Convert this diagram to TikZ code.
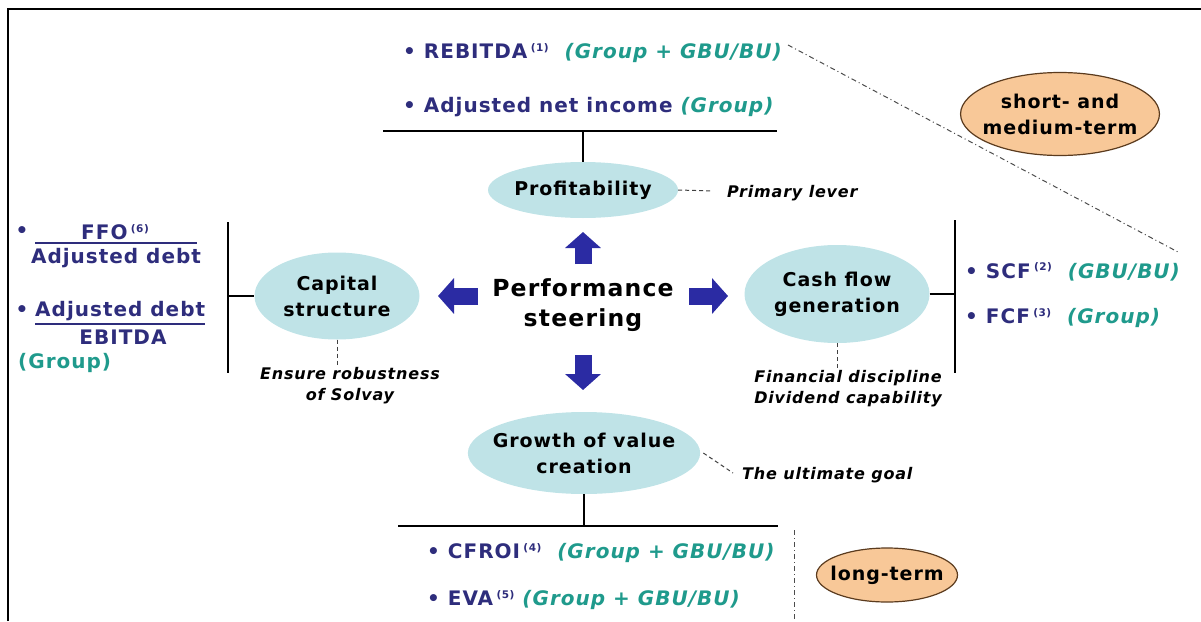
\documentclass[tikz,border=0pt]{standalone}
\usepackage{fontspec}
\setmainfont{DejaVu Sans}[LetterSpace=5]
\usetikzlibrary{shapes.geometric,arrows.meta}
\definecolor{ellblue}{HTML}{BFE3E7}
\definecolor{navy}{HTML}{2E2D7C}
\definecolor{tealg}{HTML}{1F9A8C}
\definecolor{arrblue}{HTML}{2B2BA3}
\definecolor{orfill}{HTML}{F8C898}
\definecolor{orline}{HTML}{5B3B1E}
\newcommand{\mygrp}[1]{\textcolor{tealg}{\itshape #1}}
\newcommand{\myfn}[1]{\raisebox{0.38em}{\fontsize{10.5}{10}\selectfont(#1)}}
\tikzset{
  ell/.style={ellipse, fill=ellblue, inner sep=0pt, align=center, font=\bfseries\fontsize{19}{26}\selectfont},
  orell/.style={ellipse, fill=orfill, draw=orline, line width=1.2pt, inner sep=0pt, align=center, font=\bfseries\fontsize{19}{26}\selectfont},
  met/.style={anchor=west, inner sep=0pt, text=navy, font=\bfseries\fontsize{20}{23}\selectfont},
  note/.style={inner sep=0pt, align=center, font=\bfseries\itshape\fontsize{16}{21}\selectfont},
  ln/.style={line width=1.3pt, black},
  dsh/.style={line width=1pt, black!75, dash pattern=on 4pt off 3pt},
  dshdot/.style={line width=1pt, black!70, dash pattern=on 5pt off 3pt on 1pt off 3pt},
  blk/.style={arrblue, line width=17pt, -{Triangle[length=16pt, width=35pt]}},
}
\begin{document}
\begin{tikzpicture}[x=1pt,y=-1pt]
\useasboundingbox (0,0) rectangle (1201,621);
% frame
\draw[line width=2.6pt] (8,621) -- (8,9) -- (1201,9);

% dash-dot diagonal, behind orange ellipse
\coordinate (dA) at (788,45);
\coordinate (dB) at (1178,252);
\draw[dshdot] (dA) -- (dB);

% ellipses
\node[ell, inner xsep=-4pt, minimum width=190pt, minimum height=56pt] (prof) at (583,190) {Profitability};
\node[ell, minimum width=165pt, minimum height=87pt] (cap) at (337,296) {Capital\\structure};
\node[ell, minimum width=185pt, minimum height=98pt] (cash) at (837,294) {Cash flow\\generation};
\node[ell, inner xsep=-9pt, minimum width=232pt, minimum height=82pt] (grow) at (584,453) {Growth of value\\creation};
\node[orell, inner xsep=-7pt, minimum width=195pt, minimum height=83pt] (smt) at (1060,114) {short- and\\medium-term};
\node[orell, inner xsep=-8pt, minimum width=141pt, minimum height=54pt] (lt) at (887,575) {long-term};

% center
\node[inner sep=0pt, align=center, font=\bfseries\fontsize{23.5}{30}\selectfont] (perf) at (583,305) {Performance\\steering};

% block arrows
\coordinate (uT) at (583,264); \coordinate (uH) at (583,232);
\coordinate (lT) at (478,296); \coordinate (lH) at (438,296);
\coordinate (rT) at (689,296); \coordinate (rH) at (728,296);
\coordinate (dT) at (583,355); \coordinate (dH) at (583,390);
\draw[blk] (uT) -- (uH);
\draw[blk] (lT) -- (lH);
\draw[blk] (rT) -- (rH);
\draw[blk] (dT) -- (dH);

% top metrics
\node[met] (reb) at (403,53) {•\ REBITDA\,\myfn{1}\ \ \mygrp{(Group + GBU/BU)}};
\node[met] (adj) at (403,107) {•\ Adjusted net income \mygrp{(Group)}};
\coordinate (tL) at (383,131); \coordinate (tR) at (777,131);
\draw[ln] (tL) -- (tR);
\draw[ln] (prof.north |- tL) -- (prof.north);

% profitability note
\node[note, anchor=west] (plev) at (727,193) {Primary lever};
\coordinate (pd) at (713,191);
\draw[dsh] (prof.east) -- (pd);

% left metrics
\node[met, anchor=center] (b1) at (22,232) {•};
\node[met, anchor=center] (ffo) at (115,232) {FFO\,\myfn{6}};
\coordinate (fL) at (35,243); \coordinate (fR) at (197,243);
\draw[navy, line width=1.3pt] (fL) -- (fR);
\node[met, anchor=center] (ad1) at (116,258) {Adjusted debt};
\node[met, anchor=center] (b2) at (22,311) {•};
\node[met] (ad2) at (35,311) {Adjusted debt};
\draw[navy, line width=1.3pt] ([yshift=-3pt]ad2.south west) -- ([yshift=-3pt]ad2.south east);
\node[met, anchor=center] (ebit) at (123,337) {EBITDA};
\node[met, text=tealg] (lgrp) at (18,363) {(Group)};
\coordinate (lvT) at (228,222); \coordinate (lvB) at (228,373);
\draw[ln] (lvT) -- (lvB);
\draw[ln] (cap.west -| lvT) -- (cap.west);

% capital note
\node[note] (rob) at (350,386) {Ensure robustness\\of Solvay};
\draw[dsh] (cap.south) -- (rob.north -| cap.south);

% right metrics
\node[met] (scf) at (965,272) {•\ SCF\,\myfn{2}\ \ \mygrp{(GBU/BU)}};
\node[met] (fcf) at (965,318) {•\ FCF\,\myfn{3}\ \ \mygrp{(Group)}};
\coordinate (rvT) at (955,220); \coordinate (rvB) at (955,373);
\draw[ln] (rvT) -- (rvB);
\draw[ln] (cash.east) -- (cash.east -| rvT);

% cash note
\node[note] (fin) at (848,389) {Financial discipline\\Dividend capability};
\draw[dsh] (cash.south) -- (fin.north -| cash.south);

% growth note
\node[note, anchor=west] (ult) at (742,475) {The ultimate goal};
\coordinate (gd) at (733,473);
\draw[dsh] ([xshift=3pt]grow.east) -- (gd);

% bottom metrics
\coordinate (bL) at (398,526); \coordinate (bR) at (778,526);
\draw[ln] (bL) -- (bR);
\draw[ln] (grow.south) -- (grow.south |- bL);
\node[met] (cfroi) at (427,553) {•\ CFROI\,\myfn{4}\ \ \mygrp{(Group + GBU/BU)}};
\node[met] (eva) at (427,600) {•\ EVA\,\myfn{5}\ \mygrp{(Group + GBU/BU)}};
\coordinate (vT) at (794,530); \coordinate (vB) at (794,621);
\draw[dshdot] (vT) -- (vB);
\end{tikzpicture}
\end{document}
